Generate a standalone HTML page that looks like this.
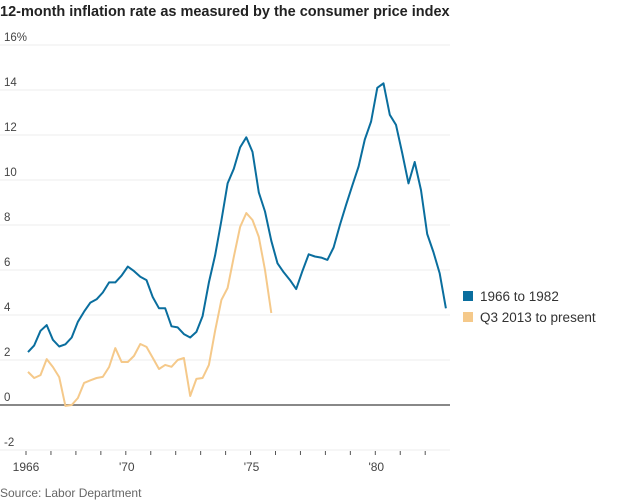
<!DOCTYPE html>
<html><head><meta charset="utf-8"><style>
body{margin:0;background:#fff;font-family:"Liberation Sans",sans-serif;}
svg{display:block}
</style></head><body>
<svg width="620" height="500" xmlns="http://www.w3.org/2000/svg">
<text x="0" y="16" font-size="14.5" font-weight="bold" fill="#222">12-month inflation rate as measured by the consumer price index</text>
<g id="grid"></g>
<g id="xaxis"></g>
<g id="series"></g>
<g>
<rect x="463" y="291" width="10" height="10" fill="#0a6e9e"/>
<text x="480" y="301" font-size="13.5" fill="#333">1966 to 1982</text>
<rect x="463" y="312" width="10" height="10" fill="#f5c98a"/>
<text x="480" y="322" font-size="13.5" fill="#333">Q3 2013 to present</text>
</g>
<text x="0" y="497" font-size="12" fill="#666">Source: Labor Department</text>
</svg>
<script>
const yTicks=[16,14,12,10,8,6,4,2,0,-2];
const xTickYears=[1966,1967,1968,1969,1970,1971,1972,1973,1974,1975,1976,1977,1978,1979,1980,1981,1982];
const xLabels=["1966","'70","'75","'80"];
const xLabelYears=[1966,1970,1975,1980];
const blue=[2.35,2.65,3.3,3.55,2.9,2.6,2.7,3.0,3.7,4.15,4.55,4.7,5.0,5.45,5.45,5.75,6.15,5.95,5.7,5.55,4.8,4.3,4.3,3.5,3.45,3.15,3.0,3.25,3.95,5.45,6.65,8.2,9.85,10.5,11.45,11.9,11.25,9.45,8.6,7.3,6.3,5.9,5.55,5.15,5.95,6.7,6.6,6.55,6.45,7.0,8.0,8.9,9.75,10.6,11.8,12.6,14.1,14.3,12.9,12.45,11.2,9.85,10.8,9.55,7.6,6.8,5.85,4.3];
const orange=[1.47,1.2,1.33,2.04,1.69,1.24,-0.04,0.0,0.31,0.98,1.1,1.2,1.25,1.69,2.53,1.91,1.91,2.18,2.71,2.58,2.1,1.6,1.78,1.7,2.0,2.09,0.4,1.16,1.2,1.78,3.3,4.67,5.2,6.58,7.91,8.53,8.22,7.47,6.0,4.09];
const blueStart=1966.08, orangeStart=1966.08, step=0.25;
const y0=405, pxPerUnit=22.5, x0=26, pxPerYear=24.95;
const ys=v=>y0-v*pxPerUnit;
const xs=t=>x0+(t-1966)*pxPerYear;
const NS="http://www.w3.org/2000/svg";
function mk(tag,attrs,parent){const e=document.createElementNS(NS,tag);for(const k in attrs)e.setAttribute(k,attrs[k]);parent.appendChild(e);return e;}
const grid=document.getElementById('grid');
yTicks.forEach(v=>{
  const l=mk('line',{x1:0,x2:450,y1:ys(v),y2:ys(v),stroke:v===0?'#888':'#ececec','stroke-width':v===0?2:1},grid);
  
  
  const t=mk('text',{x:4,y:ys(v)-4,'font-size':11.5,fill:'#444'},grid);
  t.textContent=v+(v===16?'%':'');
  
  
});
const xa=document.getElementById('xaxis');
xTickYears.forEach(yr=>{
  const l=mk('line',{x1:xs(yr),x2:xs(yr),y1:451,y2:455,stroke:'#555','stroke-width':1},xa);
  
  
});
xLabelYears.forEach((yr,i)=>{
  const t=mk('text',{x:xs(yr)+(i===0?0:1),y:471,'font-size':12,fill:'#444','text-anchor':'middle'},xa);
  t.textContent=xLabels[i];
  
  
});
const sg=document.getElementById('series');
function line(data,start,color,name){
  const d=data.map((v,i)=>(i?'L':'M')+xs(start+i*step).toFixed(1)+','+ys(v).toFixed(1)).join('');
  const p=mk('path',{d:d,fill:'none',stroke:color,'stroke-width':2,'stroke-linejoin':'round'},sg);
  
  
}
line(orange,orangeStart,'#f5c98a','line-2013-present');
line(blue,blueStart,'#0a6e9e','line-1966-1982');
</script>
</body></html>
